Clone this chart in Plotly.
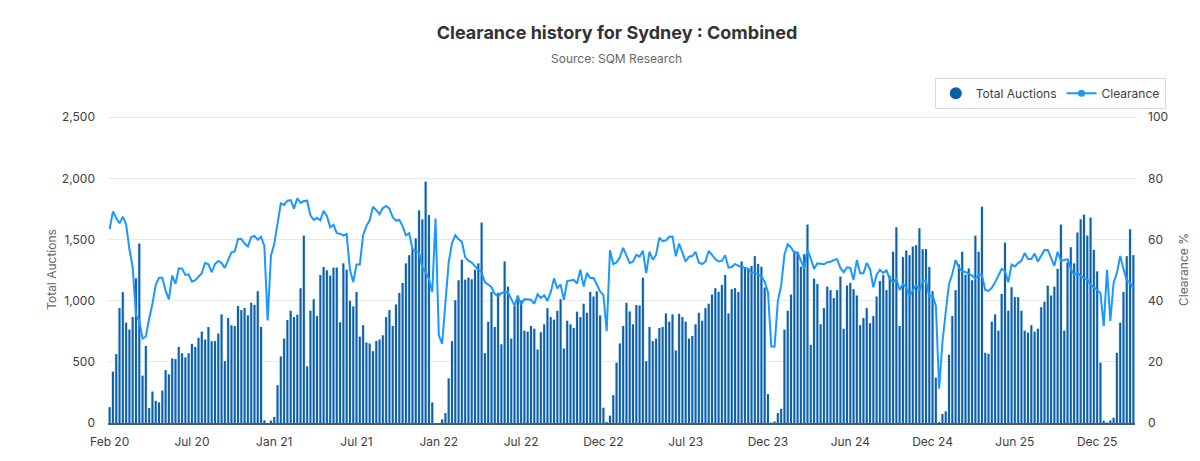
import plotly.graph_objects as go

total_auctions = [
    130, 420, 563, 940, 1070, 820, 763, 866, 1183, 1467,
    387, 630, 122, 257, 181, 168, 265, 433, 398, 528,
    522, 622, 571, 536, 571, 647, 622, 696, 747, 682,
    785, 669, 669, 731, 888, 506, 858, 799, 793, 956,
    923, 940, 880, 983, 966, 1077, 785, 22, 0, 20,
    50, 309, 544, 690, 842, 918, 866, 885, 1102, 1532,
    463, 918, 1012, 874, 1210, 1275, 1248, 1205, 1270, 1270,
    823, 1305, 1253, 999, 953, 1072, 706, 799, 658, 650,
    587, 671, 682, 717, 866, 923, 793, 969, 1064, 1145,
    1305, 1372, 1427, 1510, 1738, 1665, 1973, 1700, 168, 0,
    0, 30, 81, 365, 669, 1004, 1167, 1335, 1172, 1188,
    1175, 1253, 1305, 1638, 571, 828, 1072, 785, 1064, 644,
    1321, 1115, 690, 956, 1042, 1002, 755, 747, 793, 771,
    601, 742, 807, 939, 866, 845, 918, 1012, 609, 836,
    807, 777, 910, 866, 975, 901, 1072, 1034, 1077, 880,
    125, 8, 60, 227, 493, 650, 793, 983, 912, 807,
    964, 961, 1188, 506, 785, 669, 690, 777, 785, 896,
    828, 888, 593, 893, 866, 828, 690, 712, 807, 901,
    836, 939, 975, 1050, 1102, 1072, 1129, 1210, 896, 1094,
    1102, 1072, 1321, 1270, 1264, 1283, 1364, 1300, 1278, 1107,
    236, 2, 12, 81, 116, 763, 918, 1050, 1408, 1394,
    1278, 1380, 1622, 639, 1180, 1137, 807, 939, 1115, 1086,
    1021, 1086, 1197, 771, 1124, 1145, 1094, 1042, 799, 858,
    939, 815, 874, 1034, 1161, 1210, 1086, 1205, 1400, 1600,
    793, 1356, 1410, 1372, 1443, 1454, 1592, 1421, 1421, 1275,
    1077, 371, 8, 73, 95, 558, 874, 1086, 1297, 1400,
    1213, 1264, 1167, 1532, 1400, 1768, 574, 566, 828, 888,
    755, 1056, 1475, 918, 1110, 1029, 1029, 918, 755, 739,
    799, 747, 771, 947, 991, 1123, 1042, 1115, 1261, 1622,
    755, 1313, 1437, 1305, 1557, 1665, 1703, 1532, 1678, 1416,
    1240, 493, 19, 3, 22, 43, 574, 820, 1072, 1364,
    1584, 1372,
]

clearance = [
    63.4, 69.2, 67, 65.3, 67.5, 65, 56.9, 50.9, 35.2, 33.5,
    27.6, 28.3, 34.1, 39, 45.2, 47.5, 47.5, 43.3, 40.4, 48.2,
    45.5, 50.6, 50.5, 48.4, 48.6, 46.2, 46.7, 48, 49, 52.4,
    51.9, 49.3, 52, 53, 52.3, 50.7, 53.6, 55.8, 56.1, 60.2,
    60.2, 58.7, 57.7, 60.8, 61.2, 59.9, 60.9, 57.9, 33.5, 54.7,
    58.5, 65.5, 71.8, 71.3, 72.7, 72.9, 70.1, 73.5, 72, 72.6,
    72.7, 67.9, 66.4, 67.1, 66.3, 69.4, 67.7, 64, 64.8, 62.1,
    61.9, 61.3, 61.8, 50.1, 46.1, 51.8, 51.8, 61.4, 64.4, 66.3,
    70.7, 69.6, 68.3, 70.3, 71, 70.1, 67.3, 66.2, 66.4, 64.4,
    61.4, 62.1, 56.9, 56.1, 55.8, 50.9, 49.3, 47.1, 42.8, 66.9,
    28.7, 25.9, 40.6, 52.5, 58.8, 61.4, 60.1, 59.3, 54.3, 53.1,
    52.5, 51.2, 50.1, 49.3, 46, 45.3, 44.4, 42.2, 41.3, 42.5,
    42.6, 42.8, 40.6, 38.4, 41.5, 38.8, 40.5, 40.4, 40.3, 39,
    42.1, 40.9, 41.8, 39.9, 42.8, 47.3, 44, 45.3, 40.3, 46.4,
    46.7, 46.8, 45.6, 50.1, 44.6, 49.1, 47.4, 47.5, 45.3, 43,
    41.9, 30, 56.5, 52, 52.5, 54.2, 57.3, 54.7, 52.3, 52.8,
    55, 54.4, 56.3, 49, 56, 53.4, 55, 60.6, 59.5, 59.7,
    60.9, 61, 54.5, 58.7, 55.8, 52.8, 54.4, 54.6, 56, 52.4,
    52, 52.8, 56.3, 54.9, 53.6, 52.8, 53, 54.9, 50.8, 51,
    52, 51.4, 51.1, 50.9, 50.4, 49.1, 49.1, 48.7, 47.9, 46.2,
    42.8, 25, 25, 39.9, 44.9, 55, 58.4, 57.4, 55.7, 55.8,
    53.1, 50.4, 56.5, 53.8, 50.4, 52.2, 52.1, 51.9, 52.6, 52.7,
    53.3, 53.6, 50.7, 49.3, 50.9, 50.7, 46.8, 53.3, 49, 49,
    52.3, 50.4, 44.4, 48.4, 50.1, 49.1, 49.9, 47.1, 46, 47.1,
    43.5, 45.5, 44.4, 41.5, 43.3, 45.2, 43.3, 46.4, 46.6, 41.4,
    41.7, 38.4, 11.2, 26.5, 36.3, 45.5, 48.7, 53.3, 50.7, 49.6,
    49.4, 48.8, 48.2, 47.3, 48.4, 48.4, 43.5, 43.2, 44.2, 46,
    48, 50.4, 49.7, 46, 51.8, 51.2, 52.3, 53.1, 55.6, 53.6,
    53.6, 55.4, 52.8, 54.7, 56.6, 56.6, 54.2, 51.4, 56, 53.1,
    53.3, 53.6, 50.4, 48.5, 49, 48.2, 47.3, 47.1, 45.2, 44.4,
    43.3, 42.5, 31.7, 50.1, 33.4, 45.8, 49.1, 54.6, 50.4, 46.6,
    46, 43.9,
]

tick_labels = ["Feb 20", "Jul 20", "Jan 21", "Jul 21", "Jan 22", "Jul 22", "Dec 22",
               "Jul 23", "Dec 23", "Jun 24", "Dec 24", "Jun 25", "Dec 25"]

FONT = "Inter"
BAR_BLUE = "#0b5ea8"
# alpha just under 1: plotly then rounds thin bars instead of widening them
BAR_THIN = "rgba(11,94,168,0.995)"
BAR_PALE = "#d2e4f3"
LINE_BLUE = "#1a98ff"
TEXT = "#404040"

weeks = list(range(len(total_auctions)))

fig = go.Figure()

# pale trace underneath so the gaps between the bars read light blue, not white
fig.add_trace(go.Bar(x=weeks, y=total_auctions, width=1.0, marker=dict(color=BAR_PALE, line=dict(width=0)),
                     showlegend=False, hoverinfo="skip"))
fig.add_trace(go.Bar(x=weeks, y=total_auctions, width=0.6, marker=dict(color=BAR_THIN, line=dict(width=0)),
                     showlegend=False, name="Total Auctions"))
fig.add_trace(go.Scatter(x=weeks, y=clearance, mode="lines", yaxis="y2", showlegend=False,
                         line=dict(color=LINE_BLUE, width=2), name="Clearance"))
# legend-only entries: bars get a round swatch, the line gets a marker
fig.add_trace(go.Scatter(x=[None], y=[None], mode="markers", name="Total Auctions",
                         marker=dict(color=BAR_BLUE, size=12, symbol="circle")))
fig.add_trace(go.Scatter(x=[None], y=[None], mode="lines+markers", name="Clearance", yaxis="y2",
                         line=dict(color=LINE_BLUE, width=2),
                         marker=dict(color=LINE_BLUE, size=7)))

fig.update_layout(
    width=1200,
    height=461,
    margin=dict(l=108, r=64, t=116, b=36),
    paper_bgcolor="white",
    plot_bgcolor="white",
    font=dict(family=FONT, size=12, color=TEXT),
    barmode="overlay",
    showlegend=True,
    title=dict(text="<b>Clearance history for Sydney : Combined</b>", x=0.5142, xanchor="center",
               y=0.928, yanchor="middle", font=dict(size=18, color="#333333", family=FONT)),
    legend=dict(orientation="h", x=1.03, xanchor="right", y=1.074, yanchor="middle",
                bordercolor="#d9d9d9", borderwidth=1, bgcolor="white",
                font=dict(size=12, color=TEXT), itemwidth=30),
    annotations=[dict(text="Source: SQM Research", xref="paper", yref="paper", x=0.495, xanchor="center",
                      y=1.188, yanchor="middle", showarrow=False, font=dict(size=12, color="#666666"))],
    xaxis=dict(
        range=[-0.5, len(weeks) - 0.5],
        tickmode="array",
        tickvals=[i * 25 for i in range(len(tick_labels))],
        ticktext=tick_labels,
        showgrid=False,
        showline=True,
        linecolor="#4a5a70",
        linewidth=1.5,
        ticks="",
        ticklabelstandoff=7,
    ),
    yaxis=dict(
        range=[0, 2510],
        tickvals=[0, 500, 1000, 1500, 2000, 2500],
        tickformat=",d",
        gridcolor="#e8e8e8",
        gridwidth=1,
        zeroline=False,
        title=dict(text="Total Auctions", font=dict(size=12, color="#666666"), standoff=2),
        ticks="",
        ticklabelstandoff=12,
    ),
    yaxis2=dict(
        range=[0, 100.4],
        overlaying="y",
        side="right",
        tickvals=[0, 20, 40, 60, 80, 100],
        showgrid=False,
        zeroline=False,
        title=dict(text="Clearance %", font=dict(size=12, color="#666666"), standoff=12),
        ticks="",
        ticklabelstandoff=12,
    ),
)

fig.write_html("out.html", post_script="document.body.style.margin = '0';",
               config=dict(displayModeBar=False))
